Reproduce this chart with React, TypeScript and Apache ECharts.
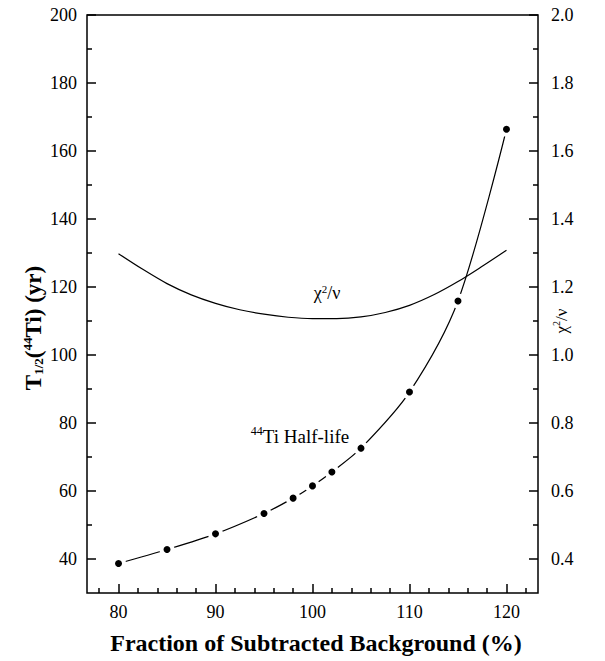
import React, { useEffect, useRef } from "react";
import * as echarts from "echarts";

const halfLifeX = [80, 85, 90, 95, 98, 100, 102, 105, 110, 115, 120];
const halfLifeValues = [38.7, 42.8, 47.4, 53.4, 57.9, 61.5, 65.6, 72.6, 89.1, 115.9, 166.4];

const chiX = [80, 82.5, 85, 87.5, 90, 92.5, 95, 97.5, 100, 102.5, 105, 107.5, 110, 112.5, 115, 117.5, 120];
const chiValues = [1.298, 1.252, 1.21, 1.177, 1.152, 1.133, 1.12, 1.111, 1.107, 1.107, 1.112, 1.125, 1.146, 1.177, 1.216, 1.261, 1.308];

const xMajorTicks = [80, 90, 100, 110, 120];
const xMinorTicks = [78, 82, 84, 86, 88, 92, 94, 96, 98, 102, 104, 106, 108, 112, 114, 116, 118, 122];
const leftMajorTicks = [40, 60, 80, 100, 120, 140, 160, 180, 200];
const leftMinorTicks = [50, 70, 90, 110, 130, 150, 170, 190];
const rightMajorTicks = [0.4, 0.6, 0.8, 1.0, 1.2, 1.4, 1.6, 1.8, 2.0];
const rightMinorTicks = [0.5, 0.7, 0.9, 1.1, 1.3, 1.5, 1.7, 1.9];

const SERIF = "Liberation Serif";

export default function App() {
  const ref = useRef<HTMLDivElement>(null);
  useEffect(() => {
    if (!ref.current) return;
    const chart = echarts.init(ref.current, undefined, { renderer: "svg" });
    const lbl = { color: "#000", fontFamily: SERIF, fontSize: 18 };
    const major = (vals: number[]) => ({ show: true, inside: true, length: 9, customValues: vals, lineStyle: { color: "#000", width: 1.5 } });
    const minor = (vals: number[]) => ({ show: true, inside: true, length: 5, customValues: vals, lineStyle: { color: "#000", width: 1.5 } });
    chart.setOption({
      animation: false,
      backgroundColor: "#fff",
      textStyle: { fontFamily: SERIF },
      grid: { left: 87, right: 67, top: 15, bottom: 68, show: true, borderColor: "#000", borderWidth: 1.5, backgroundColor: "transparent" },
      xAxis: [
        {
          type: "value", min: 76.75, max: 123.25, position: "bottom",
          axisLine: { show: false }, splitLine: { show: false },
          axisTick: major(xMajorTicks),
          axisLabel: { ...lbl, margin: 10, customValues: xMajorTicks },
        },
        {
          type: "value", min: 76.75, max: 123.25, position: "bottom",
          axisLine: { show: false }, splitLine: { show: false },
          axisTick: minor(xMinorTicks), axisLabel: { show: false },
        },
      ],
      yAxis: [
        {
          type: "value", min: 30, max: 200, position: "left",
          axisLine: { show: false }, splitLine: { show: false },
          axisTick: major(leftMajorTicks),
          axisLabel: { ...lbl, margin: 10, customValues: leftMajorTicks },
        },
        {
          type: "value", min: 30, max: 200, position: "left",
          axisLine: { show: false }, splitLine: { show: false },
          axisTick: minor(leftMinorTicks), axisLabel: { show: false },
        },
        {
          type: "value", min: 0.3, max: 2.0, position: "right",
          axisLine: { show: false }, splitLine: { show: false },
          axisTick: major(rightMajorTicks),
          axisLabel: { ...lbl, margin: 13, customValues: rightMajorTicks, formatter: (v: number) => v.toFixed(1) },
        },
        {
          type: "value", min: 0.3, max: 2.0, position: "right",
          axisLine: { show: false }, splitLine: { show: false },
          axisTick: minor(rightMinorTicks), axisLabel: { show: false },
        },
      ],
      series: [
        {
          name: "chi2",
          type: "line",
          xAxisIndex: 0, yAxisIndex: 2,
          data: chiX.map((x, i) => [x, chiValues[i]]),
          smooth: 0.3,
          showSymbol: false,
          symbol: "none",
          lineStyle: { color: "#000", width: 1.2 },
        },
        {
          name: "halflife",
          type: "line",
          xAxisIndex: 0, yAxisIndex: 0,
          data: halfLifeX.map((x, i) => [x, halfLifeValues[i]]),
          smooth: 0.3,
          symbol: "circle",
          symbolSize: 11,
          itemStyle: { color: "#000", borderColor: "#fff", borderWidth: 4 },
          lineStyle: { color: "#000", width: 1.2 },
          z: 3,
        },
      ],
      graphic: [
        {
          type: "text", x: 316, y: 643,
          style: { text: "Fraction of Subtracted Background (%)", fill: "#000", font: `bold 24px ${SERIF}`, align: "center", verticalAlign: "middle" },
        },
        {
          type: "text", x: 33, y: 328, rotation: Math.PI / 2,
          style: {
            text: "{m|T}{sub|1/2}{m|(}{sup|44}{m|Ti) (yr)}",
            fill: "#000",
            align: "center", verticalAlign: "middle",
            rich: {
              m: { fontFamily: SERIF, fontWeight: "bold", fontSize: 23, lineHeight: 24, verticalAlign: "middle", fill: "#000" },
              sub: { fontFamily: SERIF, fontWeight: "bold", fontSize: 13, lineHeight: 13, verticalAlign: "bottom", fill: "#000" },
              sup: { fontFamily: SERIF, fontWeight: "bold", fontSize: 13, lineHeight: 13, verticalAlign: "top", fill: "#000" },
            },
          },
        },
        {
          type: "text", x: 561, y: 321, rotation: Math.PI / 2,
          style: {
            text: "{m|χ}{sup|2}{m|/ν}",
            align: "center", verticalAlign: "middle",
            rich: {
              m: { fontFamily: SERIF, fontSize: 17, lineHeight: 20, verticalAlign: "middle", fill: "#000" },
              sup: { fontFamily: SERIF, fontSize: 10, lineHeight: 10, verticalAlign: "top", fill: "#000" },
            },
          },
        },
        {
          type: "text", x: 327, y: 293,
          style: {
            text: "{m|χ}{sup|2}{m|/ν}",
            align: "center", verticalAlign: "middle",
            rich: {
              m: { fontFamily: SERIF, fontSize: 18, lineHeight: 20, verticalAlign: "middle", fill: "#000" },
              sup: { fontFamily: SERIF, fontSize: 11, lineHeight: 11, verticalAlign: "top", fill: "#000" },
            },
          },
        },
        {
          type: "text", x: 300, y: 436,
          style: {
            text: "{sup|44}{m|Ti Half-life}",
            align: "center", verticalAlign: "middle",
            rich: {
              m: { fontFamily: SERIF, fontSize: 19, lineHeight: 22, verticalAlign: "middle", fill: "#000" },
              sup: { fontFamily: SERIF, fontSize: 12, lineHeight: 12, verticalAlign: "top", fill: "#000" },
            },
          },
        },
      ],
    });
    return () => chart.dispose();
  }, []);
  return <div ref={ref} style={{ position: "fixed", left: 0, top: 0, width: 605, height: 661 }} />;
}
